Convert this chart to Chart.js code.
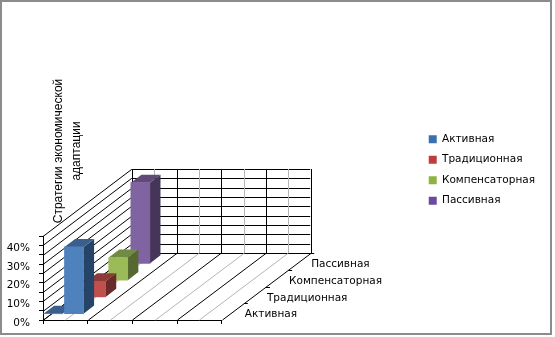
<!DOCTYPE html>
<html>
<head>
<meta charset="utf-8">
<script src="https://cdn.jsdelivr.net/npm/chart.js@4"></script>
<style>
  body { margin: 0; background: #fff; }
  #frame { position: absolute; left: 0; top: 0; width: 548px; height: 331px; border: 2px solid #8c8c8c; }
  #myChart { position: absolute; left: 0; top: 0; }
</style>
</head>
<body>
<div id="frame"></div>
<canvas id="myChart" width="555" height="337"></canvas>
<script>
// values
const seriesNames = ['Активная', 'Традиционная', 'Компенсаторная', 'Пассивная'];
const activeX = [0.05, 0.52];
const activeValues = [0.2, 36];
const traditionalX = [0.52];
const traditionalValues = [8.6];
const compensatoryX = [0.52];
const compensatoryValues = [12.4];
const passiveX = [0.52];
const passiveValues = [43.5];
const axisTitle = ['Стратегии экономической', 'адаптации'];

const frontColors = ['#4f81bd', '#c0504d', '#9bbb59', '#8064a2'];
const topColors = ['#3b5f8c', '#8e3a38', '#728b42', '#5f4a78'];
const sideColors = ['#254467', '#692b2a', '#55682f', '#453558'];
const legendColors = ['#3a6fb0', '#c03c3c', '#8fb340', '#6b4a9e'];

// how far the back wall sits from the front of the floor
const depthX = 88.5;
const depthY = -67;
const slots = seriesNames.length;
const barFront = 0.35;
const barDepth = 0.48;

function makeDataset(i, xs, ys) {
  return {
    label: seriesNames[i],
    data: xs.map((x, j) => ({ x: x, y: ys[j] })),
    backgroundColor: frontColors[i],
    barThickness: 19,
    grouped: false,
    clip: false
  };
}

function line(ctx, x1, y1, x2, y2, color) {
  ctx.strokeStyle = color;
  ctx.beginPath();
  ctx.moveTo(x1, y1);
  ctx.lineTo(x2, y2);
  ctx.stroke();
}

function poly(ctx, pts, color) {
  ctx.fillStyle = color;
  ctx.beginPath();
  pts.forEach((p, i) => i ? ctx.lineTo(p[0], p[1]) : ctx.moveTo(p[0], p[1]));
  ctx.closePath();
  ctx.fill();
}

const box3d = {
  id: 'box3d',
  // push each series back to its own row on the floor
  afterDatasetsUpdate(chart) {
    chart.getSortedVisibleDatasetMetas().forEach(meta => {
      const d = (meta.index + barFront) / slots;
      meta.data.forEach(bar => {
        bar.x += depthX * d;
        bar.y += depthY * d;
        bar.base += depthY * d;
      });
    });
  },
  beforeDatasetsDraw(chart) {
    const ctx = chart.ctx;
    const x = chart.scales.x;
    const y = chart.scales.y;
    const bottom = y.getPixelForValue(0);
    ctx.save();
    ctx.lineWidth = 1;

    // side wall and back wall lines, one for each y tick
    y.ticks.forEach(t => {
      const py = Math.round(y.getPixelForValue(t.value)) + 0.5;
      line(ctx, x.left, py, x.left + depthX, py + depthY, '#000');
      line(ctx, x.left + depthX, py + depthY, x.right + depthX, py + depthY, '#000');
    });

    // floor and back wall, gray in the middle of each category
    for (let v = 0; v <= x.max; v += 0.5) {
      const px = Math.round(x.getPixelForValue(v)) + 0.5;
      const color = v % 1 === 0 ? '#000' : '#b4b4b4';
      const backX = Math.round(px + depthX) + 0.5;
      const backY = Math.round(bottom + depthY);
      line(ctx, px, bottom, backX, backY, color);
      line(ctx, backX, backY, backX, y.getPixelForValue(y.max) + depthY, color);
    }

    // ticks on the depth axis
    for (let s = 1; s <= slots; s++) {
      const px = x.right + depthX * s / slots;
      const py = Math.round(bottom + depthY * s / slots) + 0.5;
      line(ctx, px, py, px + 4, py, '#000');
    }

    // names of the rows next to the depth axis
    ctx.fillStyle = '#000';
    ctx.font = '10.5px "DejaVu Sans"';
    ctx.textBaseline = 'middle';
    seriesNames.forEach((name, s) => {
      const d = (s + 0.5) / slots;
      ctx.fillText(name, x.right + depthX * d + 12, bottom + depthY * d + 3);
    });

    // axis title
    ctx.font = '12px "Liberation Sans"';
    ctx.textAlign = 'center';
    axisTitle.forEach((text, i) => {
      ctx.save();
      ctx.translate(58.5 + i * 18, 151);
      ctx.rotate(-Math.PI / 2);
      ctx.fillText(text, 0, 0);
      ctx.restore();
    });
    ctx.restore();
  },
  // top and side faces go under the front face that the library draws
  beforeDatasetDraw(chart, args) {
    const ctx = chart.ctx;
    const dx = depthX * barDepth / slots;
    const dy = depthY * barDepth / slots;
    args.meta.data.forEach(bar => {
      const left = bar.x - bar.width / 2;
      const right = bar.x + bar.width / 2;
      poly(ctx, [[right, bar.y], [right + dx, bar.y + dy], [right + dx, bar.base + dy], [right, bar.base]], sideColors[args.index]);
      poly(ctx, [[left, bar.y], [left + dx, bar.y + dy], [right + dx, bar.y + dy], [right, bar.y]], topColors[args.index]);
    });
  }
};

const ctx = document.getElementById('myChart');

new Chart(ctx, {
  type: 'bar',
  data: {
    datasets: [
      makeDataset(0, activeX, activeValues),
      makeDataset(1, traditionalX, traditionalValues),
      makeDataset(2, compensatoryX, compensatoryValues),
      makeDataset(3, passiveX, passiveValues)
    ]
  },
  plugins: [box3d],
  options: {
    responsive: false,
    animation: false,
    layout: { padding: { right: 10, top: 3 } },
    plugins: {
      tooltip: { enabled: false },
      legend: {
        position: 'right',
        maxWidth: 135,
        labels: {
          color: '#000',
          boxWidth: 8,
          boxHeight: 8,
          padding: 10,
          font: { family: '"DejaVu Sans"', size: 10.5 },
          generateLabels() {
            return seriesNames.map((name, i) => ({
              text: name,
              fillStyle: legendColors[i],
              strokeStyle: legendColors[i],
              lineWidth: 0,
              datasetIndex: i
            }));
          }
        }
      }
    },
    scales: {
      x: {
        type: 'linear',
        min: 0,
        max: 4,
        offset: false,
        ticks: { display: false, stepSize: 1 },
        grid: { offset: false, drawOnChartArea: false, tickLength: 4, tickColor: '#000' },
        border: { color: '#000' },
        afterFit(scale) { scale.height = 17; }
      },
      y: {
        min: 0,
        max: 45,
        ticks: {
          stepSize: 5,
          autoSkip: false,
          padding: 9,
          labelOffset: 3,
          color: '#000',
          font: { family: '"DejaVu Sans"', size: 10.5 },
          callback(v) { return v % 10 === 0 ? v + '%' : ''; }
        },
        grid: { drawOnChartArea: false, tickLength: 4, tickColor: '#000' },
        border: { color: '#000' },
        afterFit(scale) { scale.width = 43; }
      },
      // empty axes that only hold the plot down in the left corner
      spacerTop: {
        type: 'linear',
        axis: 'x',
        position: 'top',
        ticks: { display: false },
        grid: { display: false },
        border: { display: false },
        afterFit(scale) { scale.height = 233; }
      },
      spacerRight: {
        type: 'linear',
        axis: 'y',
        position: 'right',
        ticks: { display: false },
        grid: { display: false },
        border: { display: false },
        afterFit(scale) { scale.width = 197; }
      }
    }
  }
});
</script>
</body>
</html>
